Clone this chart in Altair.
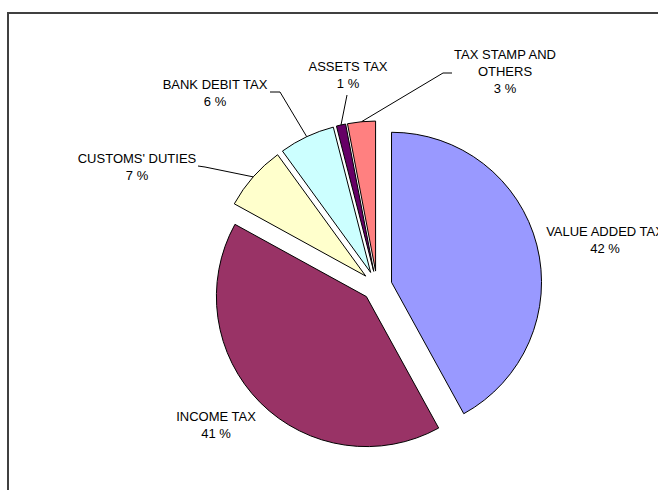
import altair as alt
import pandas as pd
import numpy as np

# ---------------- data ----------------
categories = ["VALUE ADDED TAX", "INCOME TAX", "CUSTOMS' DUTIES",
              "BANK DEBIT TAX", "ASSETS TAX", "TAX STAMP AND OTHERS"]
shares = [42, 41, 7, 6, 1, 3]
pct_labels = ["42 %", "41 %", "7 %", "6 %", "1 %", "3 %"]
label_lines = [["VALUE ADDED TAX"], ["INCOME TAX"], ["CUSTOMS' DUTIES"],
               ["BANK DEBIT TAX"], ["ASSETS TAX"], ["TAX STAMP AND", "OTHERS"]]
colors = ["#9999FF", "#993366", "#FFFFCC", "#CCFFFF", "#660066", "#FF8080"]

# ---------------- layout ----------------
CX, CY = 377, 286        # pie centre (px)
R = 150                  # pie radius (px)
EXPLODE = 15             # explosion distance (px)
FONT = "Liberation Sans"
FS = 13
LH = 17
# label block: centre x, first-line centre y
label_pos = [(605, 232), (216, 417), (137, 159), (215, 85), (348, 67), (505, 55)]
# leader line points on the label side (slice end is computed)
leader_pts = [[], [], [(198, 166), (205, 167)], [(270, 92), (280, 92)],
              [(347, 95)], [(452, 73), (443, 73)]]

W, H = 658, 490

# ---------------- derived geometry ----------------
vals = np.array(shares, dtype=float)
cum = np.cumsum(vals)
total = vals.sum()
start = 2 * np.pi * (cum - vals) / total
end = 2 * np.pi * cum / total
mid = (start + end) / 2

slices = pd.DataFrame({
    "category": categories,
    "start": start,
    "end": end,
    "cx": CX + EXPLODE * np.sin(mid),
    "cy": CY - EXPLODE * np.cos(mid),
})

labels = pd.DataFrame({
    "category": categories,
    "text": ["\n".join(l + [p]) for l, p in zip(label_lines, pct_labels)],
    "x": [p[0] for p in label_pos],
    "y": [p[1] - 5.6 for p in label_pos],
})

rows = []
for i, pts in enumerate(leader_pts):
    if not pts:
        continue
    seq = list(pts) + [(CX + (EXPLODE + R) * np.sin(mid[i]),
                        CY - (EXPLODE + R) * np.cos(mid[i]))]
    for k, (px, py) in enumerate(seq):
        rows.append({"category": categories[i], "k": k, "x": px, "y": py})
leaders = pd.DataFrame(rows)

# ---------------- chart ----------------
pie = alt.Chart(slices).mark_arc(radius=R, stroke="#000000", strokeWidth=1).encode(
    x=alt.X("cx:Q", scale=None, axis=None),
    y=alt.Y("cy:Q", scale=None, axis=None),
    theta=alt.Theta("start:Q", scale=None, stack=False),
    theta2="end:Q",
    color=alt.Color("category:N", scale=alt.Scale(domain=categories, range=colors), legend=None),
)

lines = alt.Chart(leaders).mark_line(color="#000000", strokeWidth=1).encode(
    x=alt.X("x:Q", scale=None, axis=None),
    y=alt.Y("y:Q", scale=None, axis=None),
    detail="category:N",
    order="k:Q",
)

text = alt.Chart(labels).mark_text(
    align="center", baseline="top", lineBreak="\n", lineHeight=LH,
    font=FONT, fontSize=FS, color="#000000",
).encode(
    x=alt.X("x:Q", scale=None, axis=None),
    y=alt.Y("y:Q", scale=None, axis=None),
    text="text:N",
)

frame_left = alt.Chart(pd.DataFrame({"a": [0]})).mark_rule(color="#404040", strokeWidth=2).encode(
    x=alt.value(8), y=alt.value(13), y2=alt.value(H)
)
frame_top = alt.Chart(pd.DataFrame({"a": [0]})).mark_rule(color="#404040", strokeWidth=2).encode(
    x=alt.value(7), x2=alt.value(W), y=alt.value(13)
)

chart = alt.layer(pie, lines, text, frame_left, frame_top).properties(
    width=W, height=H, padding=0, autosize="none", background="white"
).configure_view(stroke=None)

chart.save("out.html", embed_options={"renderer": "svg", "actions": False})
